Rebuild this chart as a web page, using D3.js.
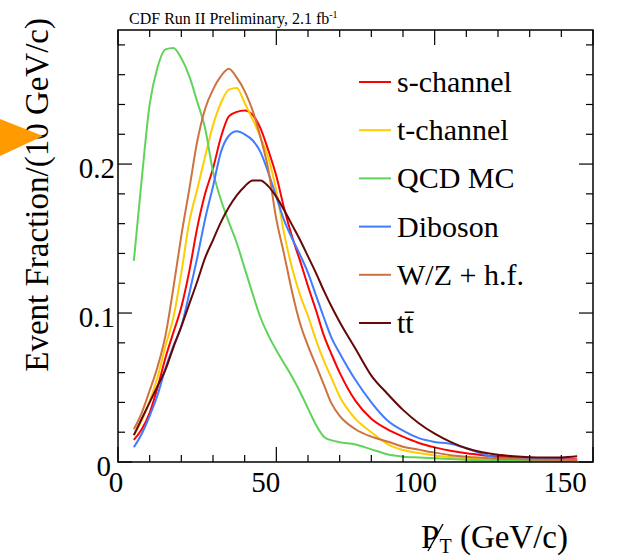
<!DOCTYPE html>
<html>
<head>
<meta charset="utf-8">
<script src="https://cdn.jsdelivr.net/npm/d3@7"></script>
<style>
  body { margin: 0; background: #fff; }
  svg { display: block; font-family: "Liberation Serif", "Times New Roman", serif; }
</style>
</head>
<body>
<svg id="chart" width="633" height="558"></svg>
<script>
// MET distributions (normalised)
const ptBins = [5, 7.5, 10, 12.5, 15, 17.5, 20, 22.5, 25, 27.5, 30, 32.5, 35, 37.5, 40, 42.5, 45, 47.5, 50,
  52.5, 55, 57.5, 60, 62.5, 65, 67.5, 70, 75, 80, 85, 90, 95, 100, 105, 110, 115, 120, 125, 130, 135, 140, 145];

const sChannel = [0.0148, 0.022, 0.033, 0.05, 0.07, 0.087, 0.104, 0.128, 0.157, 0.18, 0.197, 0.218, 0.232, 0.235,
  0.236, 0.233, 0.224, 0.209, 0.192, 0.17, 0.151, 0.135, 0.118, 0.102, 0.085, 0.072, 0.06, 0.041, 0.029, 0.022,
  0.017, 0.0128, 0.0098, 0.0075, 0.0058, 0.0046, 0.0037, 0.003, 0.0025, 0.0022, 0.002, 0.0018];
const tChannel = [0.018, 0.028, 0.041, 0.057, 0.078, 0.097, 0.127, 0.161, 0.183, 0.205, 0.226, 0.241, 0.25, 0.251,
  0.241, 0.23, 0.218, 0.204, 0.182, 0.153, 0.13, 0.112, 0.098, 0.082, 0.068, 0.056, 0.044, 0.029, 0.02, 0.0122,
  0.008, 0.006, 0.0044, 0.0033, 0.0025, 0.002, 0.0017, 0.0015, 0.0013, 0.0012, 0.0011, 0.001];
const qcdMC = [0.135, 0.19, 0.24, 0.265, 0.277, 0.278, 0.271, 0.259, 0.242, 0.224, 0.195, 0.176, 0.161, 0.147,
  0.13, 0.113, 0.097, 0.085, 0.075, 0.066, 0.057, 0.047, 0.036, 0.025, 0.017, 0.0145, 0.0133, 0.0118, 0.0085,
  0.0052, 0.0036, 0.003, 0.0025, 0.002, 0.0015, 0.0012, 0.001, 0.001, 0.0009, 0.0008, 0.0008, 0.0008];
const diboson = [0.0099, 0.019, 0.031, 0.045, 0.063, 0.078, 0.091, 0.113, 0.137, 0.163, 0.185, 0.208, 0.219, 0.222,
  0.22, 0.216, 0.208, 0.194, 0.178, 0.162, 0.15, 0.139, 0.127, 0.112, 0.097, 0.083, 0.073, 0.055, 0.04, 0.028,
  0.021, 0.016, 0.0135, 0.0123, 0.0092, 0.0055, 0.0028, 0.0025, 0.0025, 0.002, 0.0017, 0.0013];
const wzHF = [0.022, 0.033, 0.048, 0.064, 0.085, 0.117, 0.152, 0.183, 0.215, 0.237, 0.25, 0.259, 0.264, 0.258,
  0.249, 0.236, 0.218, 0.196, 0.163, 0.139, 0.114, 0.093, 0.078, 0.065, 0.052, 0.039, 0.031, 0.022, 0.017, 0.0138,
  0.0103, 0.0083, 0.0063, 0.0046, 0.0035, 0.0028, 0.0022, 0.002, 0.0017, 0.0015, 0.0014, 0.0013];
const ttbar = [0.018, 0.029, 0.04, 0.051, 0.062, 0.077, 0.091, 0.106, 0.121, 0.137, 0.149, 0.161, 0.171, 0.179,
  0.185, 0.189, 0.189, 0.185, 0.178, 0.169, 0.159, 0.149, 0.138, 0.127, 0.115, 0.104, 0.094, 0.076, 0.058, 0.046,
  0.035, 0.026, 0.019, 0.0135, 0.0092, 0.0065, 0.0048, 0.0038, 0.0032, 0.003, 0.0031, 0.0038];

const seriesNames = ["s-channel", "t-channel", "QCD MC", "Diboson", "W/Z + h.f.", "tt\u0304"];
const seriesValues = [sChannel, tChannel, qcdMC, diboson, wzHF, ttbar];
const seriesColors = ["#ff0000", "#ffcc00", "#5fd35a", "#3f7cff", "#cc7340", "#660808"];

const xTickLabels = [0, 50, 100, 150];
const yTickLabels = [0, 0.1, 0.2];

const svg = d3.select("#chart");

const plotL = 118, plotR = 593, plotT = 30, plotB = 462;
const x = d3.scaleLinear().domain([0, 150]).range([plotL, plotR]);
const y = d3.scaleLinear().domain([0, 0.29]).range([plotB, plotT]);
// ROOT put the x labels slightly off the ticks
const xLab = d3.scaleLinear().domain([0, 150]).range([116, 565]);

// title
const title = svg.append("text")
  .attr("x", 129).attr("y", 23.5)
  .attr("font-size", "16px")
  .text("CDF Run II Preliminary, 2.1 fb");
title.append("tspan").attr("dy", -6).attr("font-size", "10px").text("-1");

// curves
const line = d3.line()
  .x(d => x(d[0]))
  .y(d => y(d[1]))
  .curve(d3.curveMonotoneX);

seriesValues.forEach((vals, i) => {
  svg.append("path")
    .datum(ptBins.map((p, j) => [p, vals[j]]))
    .attr("fill", "none")
    .attr("stroke", seriesColors[i])
    .attr("stroke-width", 2)
    .attr("d", line);
});

// frame
svg.append("rect")
  .attr("x", plotL).attr("y", plotT)
  .attr("width", plotR - plotL).attr("height", plotB - plotT)
  .attr("fill", "none").attr("stroke", "#000").attr("stroke-width", 1.5);

const xMinor = d3.range(0, 151, 10);
const xMajor = [0, 50, 100, 150];
const yMinor = d3.range(0, 0.29, 0.02);
const yMajor = [0, 0.1, 0.2];

const tickLine = (x1, y1, x2, y2) => svg.append("line")
  .attr("x1", x1).attr("y1", y1).attr("x2", x2).attr("y2", y2)
  .attr("stroke", "#000").attr("stroke-width", 1.2);

xMinor.forEach(v => {
  const len = xMajor.includes(v) ? 15 : 7;
  tickLine(x(v), plotB, x(v), plotB - len);
  tickLine(x(v), plotT, x(v), plotT + len);
});
yMinor.forEach(v => {
  const len = yMajor.some(m => Math.abs(m - v) < 1e-6) ? 14 : 7;
  tickLine(plotL, y(v), plotL + len, y(v));
  tickLine(plotR, y(v), plotR - len, y(v));
});

// tick labels
svg.selectAll(".xlab").data(xTickLabels).join("text")
  .attr("class", "xlab")
  .attr("x", d => xLab(d)).attr("y", 492)
  .attr("text-anchor", "middle")
  .attr("font-size", "29px")
  .text(d => d);

svg.selectAll(".ylab").data(yTickLabels).join("text")
  .attr("class", "ylab")
  .attr("x", d => d === 0 ? 111 : 115).attr("y", d => y(d) + 14)
  .attr("text-anchor", "end")
  .attr("font-size", "29px")
  .text(d => d);

// axis titles
svg.append("text")
  .attr("transform", "translate(48,18) rotate(-90)")
  .attr("text-anchor", "end")
  .attr("font-size", "33px")
  .text("Event Fraction/(10 GeV/c)");

const xt = svg.append("text")
  .attr("x", 568).attr("y", 548)
  .attr("text-anchor", "end")
  .attr("font-size", "33px");
xt.append("tspan").text("P");
xt.append("tspan").attr("dy", 5).attr("font-size", "20px").text("T");
xt.append("tspan").attr("dy", -5).text(" (GeV/c)");
// slash through the P
svg.append("line")
  .attr("x1", 428).attr("y1", 551).attr("x2", 443).attr("y2", 524)
  .attr("stroke", "#000").attr("stroke-width", 1.4);

// legend
const legend = svg.append("g");
seriesNames.forEach((name, i) => {
  const ly = 82 + i * 48.2;
  legend.append("line")
    .attr("x1", 359).attr("x2", 391).attr("y1", ly).attr("y2", ly)
    .attr("stroke", seriesColors[i]).attr("stroke-width", 2);
  legend.append("text")
    .attr("x", 397).attr("y", ly + 10)
    .attr("font-size", "30px")
    .text(name);
});

// orange pointer at the left edge
svg.append("polygon")
  .attr("points", "0,119 43,136 0,156")
  .attr("fill", "#ff9a00");
</script>
</body>
</html>
